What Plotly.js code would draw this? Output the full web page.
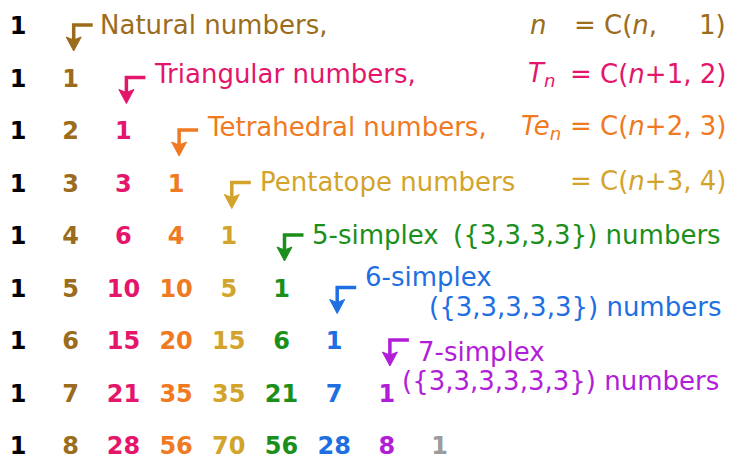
<!DOCTYPE html>
<html>
<head>
<meta charset="utf-8">
<script src="https://cdn.plot.ly/plotly-3.0.1.min.js"></script>
<style>html,body{margin:0;padding:0;background:#fff;}#chart{width:731px;height:461px;}</style>
</head>
<body>
<div id="chart"></div>
<script>
// ---- data ----
const pascalRows = [
  [1],
  [1, 1],
  [1, 2, 1],
  [1, 3, 3, 1],
  [1, 4, 6, 4, 1],
  [1, 5, 10, 10, 5, 1],
  [1, 6, 15, 20, 15, 6, 1],
  [1, 7, 21, 35, 35, 21, 7, 1],
  [1, 8, 28, 56, 70, 56, 28, 8, 1]
];
const columnColors = ["#000000", "#9a6c1c", "#e3166c", "#f07a22", "#d3a42b", "#1b8f1b", "#1f6fe2", "#b21ed8", "#9c9c9c"];
const seriesNames = ["Natural numbers,", "Triangular numbers,", "Tetrahedral numbers,", "Pentatope numbers", "5-simplex", "6-simplex", "7-simplex"];
const seriesSymbols = ["<i>n</i>", "<i>T<sub>n</sub></i>", "<i>Te<sub>n</sub></i>", "", "", "", ""];
const seriesFormulas = ["= C(<i>n</i>,", "= C(<i>n</i>+1, 2)", "= C(<i>n</i>+2, 3)", "= C(<i>n</i>+3, 4)", "({3,3,3,3}) numbers", "({3,3,3,3,3}) numbers", "({3,3,3,3,3,3}) numbers"];
const firstFormulaTail = "1)";

// ---- layout geometry (pixels) ----
const W = 731, H = 461;
const X0 = 18, DX = 52.7, Y0 = 28, DY = 52.5;
const labelLeft = [98, 152, 205, 258, 310, 363, 416];
const labelY    = [25, 74, 127, 182, 235, 277, 352];
const symbolRight = [548, 557, 563];
const formulaRight = [728, 728, 728, 728, 723, 723, 721];
const formulaY     = [25, 74, 126, 181, 235, 307, 381];
const labelFontSize = 26;

const px = v => v / W;
const py = v => 1 - v / H;

// number cells
const xs = [], ys = [], txt = [], cols = [];
pascalRows.forEach((row, r) => row.forEach((v, c) => {
  xs.push(c); ys.push(r); txt.push(String(v)); cols.push(columnColors[c]);
}));

const trace = {
  type: "scatter", mode: "text", x: xs, y: ys, text: txt,
  textposition: "middle center",
  textfont: {family: "DejaVu Sans", size: 24, weight: 700, color: cols},
  hoverinfo: "skip", showlegend: false
};

const annotations = [];
const shapes = [];
const dxu = 1 / DX, dyu = 1 / DY;

seriesNames.forEach((name, i) => {
  const k = i + 1;
  const color = columnColors[k];
  const font = {family: "DejaVu Sans", size: labelFontSize, color: color};
  annotations.push({xref: "paper", yref: "paper", x: px(labelLeft[i]), y: py(labelY[i]),
    xanchor: "left", yanchor: "middle", text: name, showarrow: false, font: font});
  if (seriesSymbols[i]) {
    annotations.push({xref: "paper", yref: "paper", x: px(symbolRight[i]), y: py(labelY[i]),
      xanchor: "right", yanchor: "middle", text: seriesSymbols[i], showarrow: false, font: font});
  }
  annotations.push({xref: "paper", yref: "paper", x: i === 0 ? px(572) : px(formulaRight[i]), y: py(formulaY[i]),
    xanchor: i === 0 ? "left" : "right", yanchor: "middle", text: seriesFormulas[i], showarrow: false, font: font});
  if (i === 0) {
    annotations.push({xref: "paper", yref: "paper", x: px(formulaRight[0]), y: py(formulaY[0]),
      xanchor: "right", yanchor: "middle", text: firstFormulaTail, showarrow: false, font: font});
  }
  // elbow arrow at column k, row k-1
  const cx = k, cy = k - 1;
  const ax = cx + 3 * dxu, top = cy - 3 * dyu;
  shapes.push({type: "path", xref: "x", yref: "y",
    path: `M ${cx + 22 * dxu},${top} L ${ax},${top} L ${ax},${cy + 13 * dyu}`,
    line: {color: color, width: 3.5}});
  shapes.push({type: "path", xref: "x", yref: "y",
    path: `M ${ax - 7.5 * dxu},${cy + 9 * dyu} L ${ax},${cy + 12 * dyu} L ${ax + 7.5 * dxu},${cy + 9 * dyu} L ${ax},${cy + 23 * dyu} Z`,
    fillcolor: color, line: {color: color, width: 1}});
});

const layout = {
  width: W, height: H,
  margin: {l: 0, r: 0, t: 0, b: 0, pad: 0},
  paper_bgcolor: "#ffffff", plot_bgcolor: "#ffffff",
  xaxis: {range: [-X0 / DX, (W - X0) / DX], visible: false, fixedrange: true},
  yaxis: {range: [(H - Y0) / DY, -Y0 / DY], visible: false, fixedrange: true},
  showlegend: false,
  annotations: annotations,
  shapes: shapes
};

Plotly.newPlot("chart", [trace], layout, {displayModeBar: false, staticPlot: true});
</script>
</body>
</html>
